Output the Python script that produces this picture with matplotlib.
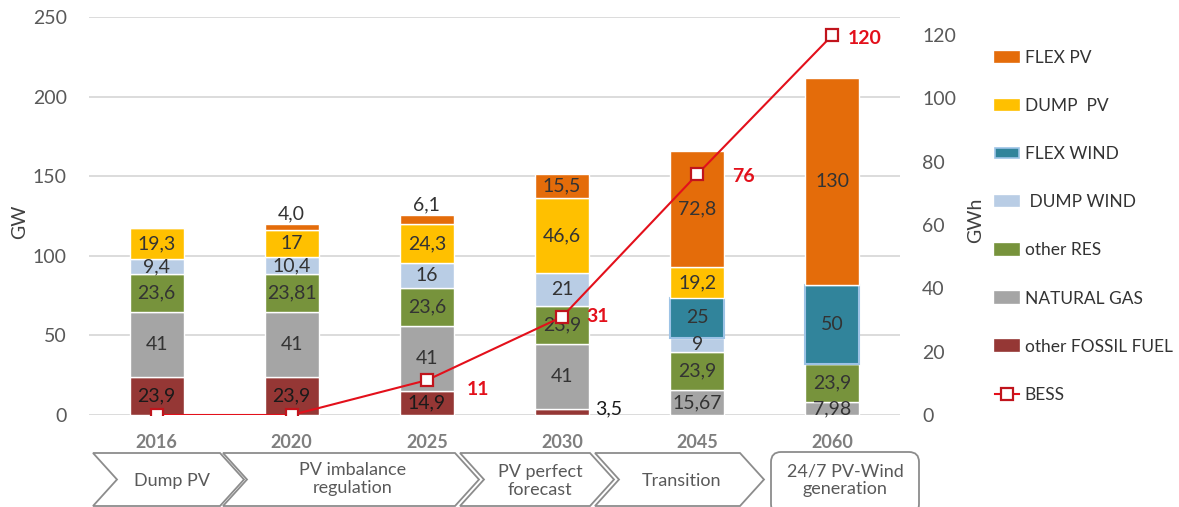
import matplotlib
matplotlib.use('Agg')
import matplotlib.pyplot as plt
from matplotlib.patches import Polygon, FancyBboxPatch, Patch
from matplotlib.lines import Line2D
import numpy as np

plt.rcParams['font.family'] = ['Lato', 'DejaVu Sans']

years = ['2016', '2020', '2025', '2030', '2045', '2060']

# GW, stacked bottom -> top
fossil = [23.9, 23.9, 14.9, 3.5, 0, 0]
gas = [41, 41, 41, 41, 15.67, 7.98]
other_res = [23.6, 23.81, 23.6, 23.9, 23.9, 23.9]
dump_wind = [9.4, 10.4, 16, 21, 9, 0]
flex_wind = [0, 0, 0, 0, 25, 50]
dump_pv = [19.3, 17, 24.3, 46.6, 19.2, 0]
flex_pv = [0, 4.0, 6.1, 15.5, 72.8, 130]

# GWh
bess = [0, 0, 11, 31, 76, 120]

phases = ['Dump PV', 'PV imbalance\nregulation', 'PV perfect\nforecast',
          'Transition', '24/7 PV-Wind\ngeneration']

series = [
    ('other FOSSIL FUEL', fossil, '#953735', 'white'),
    ('NATURAL GAS', gas, '#A5A5A5', 'white'),
    ('other RES', other_res, '#77933C', 'white'),
    (' DUMP WIND', dump_wind, '#B9CDE5', 'white'),
    ('FLEX WIND', flex_wind, '#31849B', '#9DC3E6'),
    ('DUMP  PV', dump_pv, '#FFC000', 'white'),
    ('FLEX PV', flex_pv, '#E46C0A', 'white'),
]

# labels that do not sit in the middle of their segment
label_above = {('FLEX PV', 1), ('FLEX PV', 2)}
label_right = {('other FOSSIL FUEL', 3)}


def fmt(v):
    return str(v).replace('.', ',')


fig = plt.figure(figsize=(11.79, 5.07), dpi=100)
W, H = 1179, 507
ax = fig.add_axes([89 / W, 92 / H, 811 / W, 398 / H])

x = np.arange(len(years))
bw = 0.4
bottom = np.zeros(len(years))
for name, raw_vals, col, ec in series:
    vals = np.array(raw_vals, dtype=float)
    lw = 1.5 if ec != 'white' else 1.0
    ax.bar(x, vals, bw, bottom=bottom, color=col, edgecolor=ec, linewidth=lw, zorder=2)
    for i, v in enumerate(vals):
        if v == 0:
            continue
        txt = fmt(raw_vals[i])
        if (name, i) in label_above:
            ax.annotate(txt, (x[i], bottom[i] + v), xytext=(0, 1), textcoords='offset pixels',
                        ha='center', va='bottom', fontsize=14, color='#333333', zorder=4)
        elif (name, i) in label_right:
            ax.annotate(txt, (x[i] + bw / 2, bottom[i] + v / 2), xytext=(6, 3), textcoords='offset pixels',
                        ha='left', va='center', fontsize=14, color='#1a1a1a', zorder=4)
        else:
            tc = '#1a1a1a' if name == 'other FOSSIL FUEL' else '#333333'
            ax.text(x[i], bottom[i] + v / 2, txt, ha='center', va='center',
                    fontsize=14, color=tc, zorder=4)
    bottom += vals

ax.set_xlim(-0.5, 5.5)
ax.set_ylim(0, 250)
ax.set_yticks(np.arange(0, 251, 50))
ax.set_xticks(x)
ax.set_xticklabels(years, fontsize=13, fontweight='bold', color='#7F7F7F')
ax.tick_params(axis='x', length=0, pad=14)
ax.tick_params(axis='y', length=0, pad=16, labelsize=14, labelcolor='#595959')
ax.grid(axis='y', color='#D9D9D9', linewidth=1.3, zorder=0)
ax.set_axisbelow(True)
for s in ax.spines.values():
    s.set_visible(False)
ax.set_ylabel('GW', fontsize=14, color='#404040')
ax.yaxis.set_label_coords(-0.075, 0.485)

ax2 = ax.twinx()
ax2.set_ylim(0, 125.7)
ax2.set_yticks(np.arange(0, 121, 20))
ax2.tick_params(axis='y', length=0, pad=16, labelsize=14, labelcolor='#595959')
for s in ax2.spines.values():
    s.set_visible(False)
ax2.set_ylabel('GWh', fontsize=14, color='#404040')
ax2.yaxis.set_label_coords(1.083, 0.49)

red = '#E3101B'
ax2.plot(x, bess, color=red, linewidth=1.5, marker='s', markersize=9,
         markerfacecolor='white', markeredgecolor='#C0141C', markeredgewidth=1.6, zorder=5)
bess_offsets = [None, None, (40, -9), (24, 0), (35, -2), (15, -3)]
for i, v in enumerate(bess):
    if v == 0:
        continue
    ax2.annotate(str(v), (x[i], v), xytext=bess_offsets[i], textcoords='offset pixels',
                 ha='left', va='center', fontsize=14, fontweight='bold', color=red)

# legend
handles = []
labels = []
for name, vals, col, ec in reversed(series):
    handles.append(Patch(facecolor=col, edgecolor=ec if ec != 'white' else col, linewidth=1.2))
    labels.append(name)
handles.append(Line2D([0], [0], color=red, linewidth=1.5, marker='s', markersize=9,
                      markerfacecolor='white', markeredgecolor='#C0141C', markeredgewidth=1.6))
labels.append('BESS')
fig.legend(handles, labels, loc='upper left', bbox_to_anchor=(995 / W, 1 - 50 / H),
           frameon=False, fontsize=12.5, labelspacing=1.85, handlelength=1.4,
           handleheight=0.55, handletextpad=0.3, borderaxespad=0, borderpad=0,
           labelcolor='#333333')

# phase chevrons along the bottom (figure pixel space)
ov = fig.add_axes([0, 0, 1, 1], zorder=-1)
ov.set_xlim(0, W)
ov.set_ylim(H, 0)
ov.axis('off')
top, bot = 453, 506
mid = (top + bot) / 2
d = 24
chevrons = [(93, 220), (223, 455), (460, 590), (595, 740)]
for x0, x1 in chevrons:
    pts = [(x0, top), (x1, top), (x1 + d, mid), (x1, bot), (x0, bot), (x0 + d, mid)]
    ov.add_patch(Polygon(pts, closed=True, facecolor='white', edgecolor='#8C8C8C', linewidth=1.3))
ov.add_patch(FancyBboxPatch((771, 452), 148, 62, boxstyle='round,pad=0,rounding_size=10',
                            facecolor='white', edgecolor='#8C8C8C', linewidth=1.3))
text_pos = [(172, 481), (353, 479), (540, 481), (682, 481), (845, 480)]
for (tx, ty), name in zip(text_pos, phases):
    ov.text(tx, ty, name, ha='center', va='center', fontsize=13, color='#595959', linespacing=1.15)

fig.savefig('out.png', dpi=100)
